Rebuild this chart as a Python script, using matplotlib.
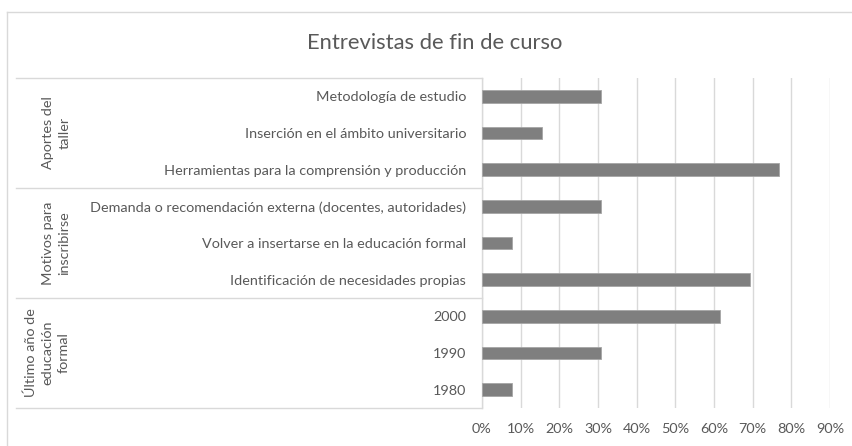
import matplotlib
matplotlib.use("Agg")
import matplotlib.pyplot as plt
from matplotlib.transforms import blended_transform_factory
from matplotlib.lines import Line2D
from matplotlib.ticker import PercentFormatter

title = "Entrevistas de fin de curso"
groups = ["Aportes del\ntaller", "Motivos para\ninscribirse", "Último año de\neducación\nformal"]
categories = [
    ["Metodología de estudio",
     "Inserción en el ámbito universitario",
     "Herramientas para la comprensión y producción"],
    ["Demanda o recomendación externa (docentes, autoridades)",
     "Volver a insertarse en la educación formal",
     "Identificación de necesidades propias"],
    ["2000", "1990", "1980"],
]
values = [
    [0.308, 0.154, 0.769],
    [0.308, 0.077, 0.692],
    [0.615, 0.308, 0.077],
]
xticks = [0, 0.1, 0.2, 0.3, 0.4, 0.5, 0.6, 0.7, 0.8, 0.9]

W, H = 853, 446
plt.rcParams['font.family'] = ['Lato', 'DejaVu Sans']
text_color = "#595959"
grid_color = "#d9d9d9"
fs = 10.4

fig = plt.figure(figsize=(W / 100, H / 100), dpi=100)
ax = fig.add_axes([482 / W, 1 - 408 / H, (830 - 482) / W, (408 - 78) / H])

labels = [c for g in categories for c in g]
vals = [v for g in values for v in g]
n = len(labels)
ypos = list(range(n))
ax.barh(ypos, vals, height=0.35, color="#7f7f7f", edgecolor="#a6a6a6", linewidth=0.6, zorder=3)
ax.set_ylim(n - 0.5, -0.5)
ax.set_xlim(0, 0.9)
ax.set_xticks(xticks)
ax.xaxis.set_major_formatter(PercentFormatter(1.0, decimals=0))
ax.set_yticks(ypos)
ax.set_yticklabels(labels)
ax.tick_params(axis='y', length=0, pad=11.5, labelsize=fs, labelcolor=text_color)
ax.tick_params(axis='x', length=0, pad=10.5, labelsize=fs, labelcolor=text_color)
ax.grid(axis='x', color=grid_color, linewidth=1, zorder=0)
for s in ["top", "right", "bottom"]:
    ax.spines[s].set_visible(False)
ax.spines["left"].set_color(grid_color)
ax.spines["left"].set_linewidth(1)

# group separators and labels
tr = blended_transform_factory(fig.transFigure, ax.transData)
start = 0
bounds = [-0.5]
for g, cats in zip(groups, categories):
    end = start + len(cats)
    bounds.append(end - 0.5)
    center = (start + end - 1) / 2
    xc = 56 if g.count("\n") == 1 else 47
    ax.text(xc / W, center, g, transform=tr, rotation=90, ha='center', va='center',
            fontsize=fs, color=text_color, multialignment='center', linespacing=1.45)
    start = end
for b in bounds:
    ax.add_line(Line2D([16 / W, 482 / W], [b, b], transform=tr, color=grid_color,
                       linewidth=1, clip_on=False))

# chart outer border
fig.add_artist(Line2D([7 / W, 1.01], [1 - 12 / H, 1 - 12 / H], transform=fig.transFigure,
                      color=grid_color, linewidth=1))
fig.add_artist(Line2D([7 / W, 7 / W], [-0.01, 1 - 12 / H], transform=fig.transFigure,
                      color=grid_color, linewidth=1))

fig.text(435 / W, 1 - 43 / H, title, ha='center', va='center', fontsize=15.8, color=text_color)

fig.savefig("out.png", dpi=100, facecolor="white")
